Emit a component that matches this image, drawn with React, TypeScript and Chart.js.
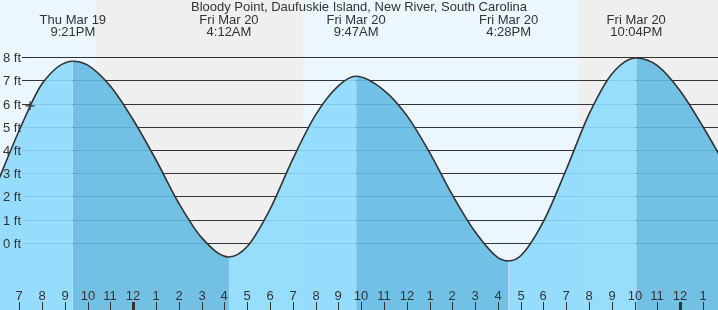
import React, { useEffect, useRef } from 'react';
import { Chart, registerables } from 'chart.js';

Chart.register(...registerables);

const TITLE = 'Bloody Point, Daufuskie Island, New River, South Carolina';

// x values: hours since Thu Mar 19, 7:00 PM
const tideHours = [-1, 0, 1, 2.35, 3, 4, 5, 6, 7, 8, 9.2, 10, 11, 12, 13, 14, 14.78, 16, 17, 18, 19, 20, 21, 21.47, 22, 23, 24, 25, 26, 27.07, 28, 29, 30, 31];
const tideFeet = [2.5, 4.85, 6.85, 7.82, 7.65, 6.74, 5.29, 3.57, 1.71, 0.23, -0.6, -0.15, 1.45, 3.61, 5.51, 6.76, 7.17, 6.57, 5.49, 3.9, 2.07, 0.48, -0.63, -0.77, -0.55, 0.93, 3.16, 5.54, 7.27, 7.96, 7.63, 6.54, 5.0, 3.3];

const extremeHours = [2.35, 9.2, 14.78, 21.47, 27.07];
const extremeDays = ['Thu Mar 19', 'Fri Mar 20', 'Fri Mar 20', 'Fri Mar 20', 'Fri Mar 20'];
const extremeTimes = ['9:21PM', '4:12AM', '9:47AM', '4:28PM', '10:04PM'];

const hourTicks = [0, 1, 2, 3, 4, 5, 6, 7, 8, 9, 10, 11, 12, 13, 14, 15, 16, 17, 18, 19, 20, 21, 22, 23, 24, 25, 26, 27, 28, 29, 30];
const hourLabels = ['7', '8', '9', '10', '11', '12', '1', '2', '3', '4', '5', '6', '7', '8', '9', '10', '11', '12', '1', '2', '3', '4', '5', '6', '7', '8', '9', '10', '11', '12', '1'];
const midnightTicks = [5, 29];

const feetTicks = [0, 1, 2, 3, 4, 5, 6, 7, 8];
const feetLabels = ['0 ft', '1 ft', '2 ft', '3 ft', '4 ft', '5 ft', '6 ft', '7 ft', '8 ft'];

const lightStarts = [-0.9, 12.45];
const lightEnds = [3.37, 24.56];

const nowHour = [0.47];
const nowFeet = [5.9];

const X_MIN = -0.847;
const X_MAX = 30.658;
const Y_MIN = -2.882;
const Y_MAX = 10.452;

const FONT = '13px "Liberation Sans", Arial, sans-serif';
const TEXT = '#333333';
const LIGHT = 'rgba(141,218,253,0.9)';
const DARK = 'rgba(100,187,227,0.9)';

const decorPlugin = {
  id: 'tideDecor',
  beforeDatasetsDraw(chart: any) {
    const { ctx, scales } = chart;
    const x = scales.x;
    const y = scales.y;
    ctx.save();
    ctx.fillStyle = '#efefef';
    ctx.fillRect(0, 0, chart.width, chart.height);
    ctx.fillStyle = '#ebf6fe';
    for (let i = 0; i < lightStarts.length; i++) {
      const a = Math.round(x.getPixelForValue(lightStarts[i]));
      const b = Math.round(x.getPixelForValue(lightEnds[i]));
      ctx.fillRect(a, 0, b - a, chart.height);
    }
    ctx.strokeStyle = '#333333';
    ctx.lineWidth = 1;
    for (const f of feetTicks) {
      const py = Math.round(y.getPixelForValue(f)) + 0.5;
      ctx.beginPath();
      ctx.moveTo(22, py);
      ctx.lineTo(chart.width, py);
      ctx.stroke();
    }
    ctx.restore();
  },
  afterDatasetsDraw(chart: any) {
    const { ctx, scales } = chart;
    const x = scales.x;
    const y = scales.y;
    ctx.save();
    ctx.fillStyle = TEXT;
    ctx.font = FONT;
    ctx.textBaseline = 'alphabetic';
    ctx.textAlign = 'left';
    feetTicks.forEach((f, i) => {
      ctx.fillText(feetLabels[i], 3, Math.round(y.getPixelForValue(f)) + 5);
    });
    ctx.textAlign = 'center';
    hourTicks.forEach((h, i) => {
      const px = Math.round(x.getPixelForValue(h));
      ctx.fillText(hourLabels[i], px, 300);
      if (midnightTicks.includes(h)) {
        ctx.fillRect(px - 1, 302, 3, 8);
      } else {
        ctx.fillRect(px, 302, 1, 8);
      }
    });
    extremeHours.forEach((h, i) => {
      const px = x.getPixelForValue(h);
      ctx.fillText(extremeDays[i], px, 24);
      ctx.fillText(extremeTimes[i], px, 36);
    });
    ctx.fillText(TITLE, 359, 11);
    ctx.restore();
  },
};

export default function App() {
  const ref = useRef<HTMLCanvasElement | null>(null);
  useEffect(() => {
    if (!ref.current) return;
    const chart = new Chart(ref.current, {
      type: 'line',
      data: {
        datasets: [
          {
            order: 1,
            data: tideHours.map((h, i) => ({ x: h, y: tideFeet[i] })),
            borderColor: '#333333',
            borderWidth: 1.6,
            pointRadius: 0,
            fill: 'start',
            backgroundColor: LIGHT,
            cubicInterpolationMode: 'monotone',
            segment: {
              backgroundColor: (c: any) => (c.p1.parsed.y < c.p0.parsed.y ? DARK : LIGHT),
            },
          } as any,
          {
            order: 0,
            data: nowHour.map((h, i) => ({ x: h, y: nowFeet[i] })),
            showLine: false,
            fill: false,
            pointStyle: 'cross',
            pointRadius: 4.5,
            borderColor: '#333333',
            borderWidth: 1.2,
            backgroundColor: 'transparent',
          } as any,
        ],
      },
      options: {
        animation: false,
        responsive: false,
        maintainAspectRatio: false,
        events: [],
        layout: { padding: 0, autoPadding: false },
        plugins: {
          legend: { display: false },
          tooltip: { enabled: false },
          title: { display: false },
        },
        scales: {
          x: { type: 'linear', min: X_MIN, max: X_MAX, display: false },
          y: { type: 'linear', min: Y_MIN, max: Y_MAX, display: false },
        },
      },
      plugins: [decorPlugin],
    });
    return () => chart.destroy();
  }, []);
  return (
    <div style={{ position: 'fixed', left: 0, top: 0, width: 718, height: 310, background: '#efefef' }}>
      <canvas ref={ref} width={718} height={310} style={{ display: 'block', width: 718, height: 310 }} />
    </div>
  );
}
